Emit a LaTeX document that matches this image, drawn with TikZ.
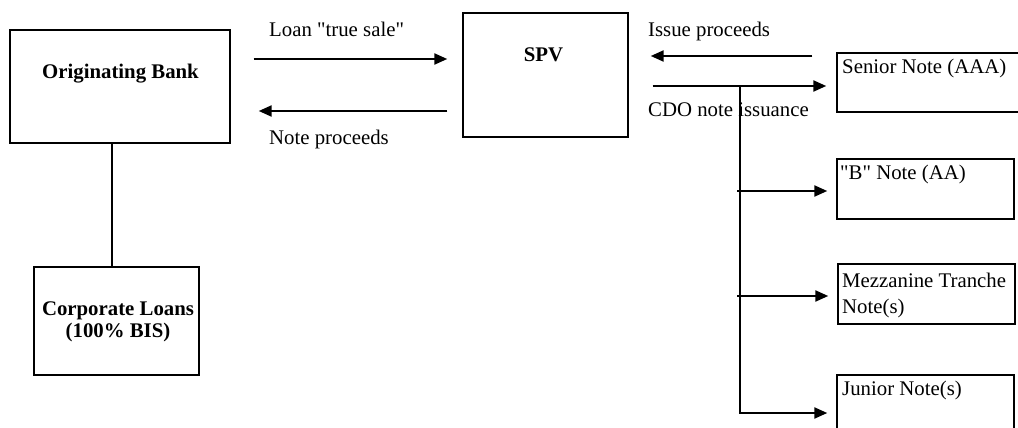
\documentclass[tikz,border=0pt]{standalone}
\usepackage{fontspec}
\setmainfont{Liberation Serif}[Ligatures=TeXOff]
\usetikzlibrary{arrows.meta}
\newcommand\tightlines{\lineskiplimit=-20pt\relax}
\begin{document}
\begin{tikzpicture}[x=1pt,y=-1pt,
  box/.style={draw,line width=1.4pt,rectangle,inner sep=0pt},
  flow/.style={line width=2.2pt,-{Triangle[length=13pt,width=11pt]}},
  link/.style={line width=1.4pt},
  txt/.style={inner sep=0pt,font=\fontsize{20.8}{25}\selectfont},
  btxt/.style={inner sep=0pt,font=\fontsize{20.8}{25}\selectfont\bfseries}]
\useasboundingbox (0,0) rectangle (1018,428);
\clip (0,0) rectangle (1018,428);

% boxes
\node[box,minimum width=220pt,minimum height=113pt] (bank)   at (120,86.5) {};
\node[box,minimum width=165pt,minimum height=108pt] (loans)  at (116.5,321) {};
\node[box,minimum width=165pt,minimum height=124pt] (spv)    at (545.5,75) {};
\node[box,minimum width=193pt,minimum height=59pt]  (senior) at (933.5,82.5) {};
\node[box,minimum width=177pt,minimum height=60pt]  (bnote)  at (925.5,189) {};
\node[box,minimum width=177pt,minimum height=60pt]  (mezz)   at (926.5,294) {};
\node[box,minimum width=177pt,minimum height=70pt]  (junior) at (925.5,410) {};

% box texts (base of a two-line node sits on its last line)
\node[btxt,anchor=base] (bankT) at (120.5,78) {Originating Bank};
\node[inner sep=0pt,anchor=base,align=center,font={\fontsize{20.8}{20}\selectfont\bfseries\tightlines}] (loansT) at (118,337) {Corporate Loans\\[2pt](100\% BIS)};
\node[btxt,anchor=base] (spvT) at (543.5,62) {SPV};
\node[txt,anchor=base west] (seniorT) at (842,74) {Senior Note (AAA)};
\node[txt,anchor=base west] (bnoteT) at (840,179) {"B" Note (AA)};
\node[inner sep=0pt,anchor=base west,align=left,font={\fontsize{20.8}{26}\selectfont}] (mezzT) at (842,313) {Mezzanine Tranche\\Note(s)};
\node[txt,anchor=base west] (juniorT) at (842,395) {Junior Note(s)};

% flow labels
\node[txt,anchor=base west] (saleL)  at (269,37)  {Loan "true sale"};
\node[txt,anchor=base west] (procL)  at (269,144) {Note proceeds};
\node[txt,anchor=base west] (issueL) at (648,37)  {Issue proceeds};
\node[txt,anchor=base west] (cdoL)   at (648,117) {CDO note issuance};

% bank to its loan book
\draw[link] ([xshift=-8pt]bank.south) -- ([xshift=-8pt]bank.south |- loans.north);

% bank <-> SPV
\draw[flow] ([xshift=23pt]bank.east |- 0,59) -- ([xshift=-15pt]spv.west |- 0,59);
\draw[flow] ([xshift=-15pt]spv.west |- 0,111) -- ([xshift=28pt]bank.east |- 0,111);

% SPV <-> note holders
\draw[flow] ([xshift=-24pt]senior.west |- 0,56) -- ([xshift=22pt]spv.east |- 0,56);
\draw[flow] ([xshift=24pt]spv.east |- 0,86) -- ([xshift=-10pt]senior.west |- 0,86);

% tranche distribution
\coordinate (trunkTop) at (740,86);
\coordinate (trunkBot) at (740,413);
\draw[link] (trunkTop) -- (trunkBot);
\draw[flow] ([xshift=-3pt]trunkTop |- 0,191) -- ([xshift=-9pt]bnote.west |- 0,191);
\draw[flow] ([xshift=-3pt]trunkTop |- 0,296) -- ([xshift=-9pt]mezz.west |- 0,296);
\draw[flow] ([xshift=-1pt]trunkBot) -- ([xshift=-9pt]junior.west |- trunkBot);
\end{tikzpicture}
\end{document}
